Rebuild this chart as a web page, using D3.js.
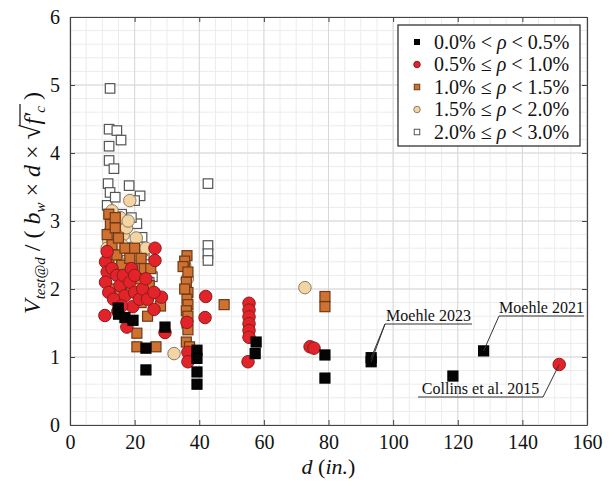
<!DOCTYPE html>
<html>
<head>
<meta charset="utf-8">
<script src="https://cdn.jsdelivr.net/npm/d3@7"></script>
<style>
  body { margin: 0; background: #fff; }
  text { font-family: "Liberation Serif", "DejaVu Serif", serif; fill: #111; }
</style>
</head>
<body>
<svg id="chart" width="616" height="489"></svg>
<script>
// Normalised shear strength vs effective depth, grouped by longitudinal reinforcement ratio.
// Each entry: [d (in.), V / (bw * d * sqrt(f'c))]

const rho0to05 = [
  [14.9, 1.72], [15.0, 1.63], [17.0, 1.58], [19.5, 1.54], [29.4, 1.44],
  [23.5, 1.13], [23.5, 0.81], [39.3, 1.10], [39.3, 0.98], [39.3, 0.78],
  [39.3, 0.60], [57.6, 1.22], [57.3, 1.05], [78.9, 1.03], [78.9, 0.69],
  [93.2, 0.99], [93.2, 0.93], [118.5, 0.72], [128.0, 1.09]
];

const rho05to10 = [
  [10.8, 1.61], [14.8, 1.67], [19.4, 1.74], [17.6, 1.44], [26.0, 1.70],
  [28.3, 1.88], [29.4, 1.36], [26.3, 2.60], [26.3, 2.42], [42.0, 1.89],
  [41.8, 1.58], [36.2, 1.51], [36.5, 1.07], [36.5, 0.93], [55.4, 1.79],
  [55.4, 1.69], [55.4, 1.59], [55.4, 1.49], [55.4, 1.39], [55.4, 1.29],
  [55.1, 0.93], [74.3, 1.15], [75.5, 1.13], [151.4, 0.89],
  [11.0, 2.40], [11.5, 2.25], [11.0, 2.10], [12.0, 1.95], [13.0, 2.30],
  [14.5, 2.20], [15.5, 2.05], [16.5, 2.20], [17.0, 1.90], [18.5, 2.10],
  [20.0, 1.95], [21.5, 1.85], [22.5, 2.00], [24.0, 1.85], [13.5, 1.85],
  [16.0, 1.75], [19.0, 2.30], [11.5, 2.55], [20.0, 2.20], [23.5, 2.15],
  [26.0, 1.95]
];

const rho10to15 = [
  [36.2, 2.49], [35.5, 2.41], [35.0, 2.33], [36.5, 2.25], [36.0, 2.10],
  [36.5, 1.95], [36.2, 1.85], [36.5, 1.77], [36.0, 1.68], [36.5, 1.60],
  [36.2, 1.50], [36.5, 1.40], [36.0, 1.22], [37.0, 1.15], [35.5, 2.00],
  [47.7, 1.77], [78.9, 1.89], [78.9, 1.74], [20.7, 1.35], [20.7, 1.15],
  [26.6, 1.15],
  [12.0, 3.10], [12.5, 2.95], [11.5, 2.80], [13.0, 2.65], [12.0, 2.45],
  [14.0, 2.90], [15.0, 2.75], [14.5, 2.50], [16.0, 2.35], [17.0, 2.60],
  [18.5, 2.45], [19.5, 2.30], [21.0, 2.15], [22.0, 2.45], [23.0, 2.30],
  [24.5, 2.05], [14.0, 3.05], [17.5, 2.10], [19.0, 1.95], [22.0, 1.80],
  [25.0, 2.30], [13.0, 2.00], [15.5, 1.90], [28.0, 1.75], [24.0, 1.60],
  [20.0, 2.60]
];

const rho15to20 = [
  [72.7, 2.02], [32.2, 1.05], [36.3, 2.15], [35.5, 2.35],
  [12.0, 2.70], [13.5, 2.55], [12.5, 2.85], [15.0, 2.40], [16.5, 2.80],
  [17.5, 2.90], [18.5, 3.30], [14.0, 2.35], [19.0, 2.60], [20.5, 2.75],
  [17.0, 2.20], [13.0, 3.15], [15.5, 3.05], [21.0, 2.50], [11.5, 2.60],
  [18.0, 3.00], [16.0, 2.65], [22.5, 2.55], [19.5, 2.05], [23.5, 2.60]
];

const rho20to30 = [
  [12.4, 4.95], [12.1, 4.35], [14.5, 4.33], [15.8, 4.19], [12.1, 4.10],
  [12.1, 3.89], [13.6, 3.77], [11.8, 3.55], [18.3, 3.52], [12.4, 3.42],
  [21.7, 3.37], [20.0, 3.30], [11.5, 3.23], [20.7, 2.96], [17.0, 2.96],
  [22.3, 2.76], [21.0, 2.62], [17.5, 2.42], [25.5, 2.18], [24.5, 2.10],
  [16.0, 3.10], [19.0, 3.05], [42.7, 3.55], [42.7, 2.64], [42.7, 2.52],
  [42.7, 2.42], [23.0, 2.50], [14.0, 3.35]
];

const legendLabels = [
  ["0.0% < ", "ρ", " < 0.5%"],
  ["0.5% ≤ ", "ρ", " < 1.0%"],
  ["1.0% ≤ ", "ρ", " < 1.5%"],
  ["1.5% ≤ ", "ρ", " < 2.0%"],
  ["2.0% ≤ ", "ρ", " < 3.0%"]
];

const xTicks = [0, 20, 40, 60, 80, 100, 120, 140, 160];
const yTicks = [0, 1, 2, 3, 4, 5, 6];

const noteLabels = ["Moehle 2023", "Moehle 2021", "Collins et al. 2015"];

// ---- layout ----
const svg = d3.select("#chart");
const x = d3.scaleLinear().domain([0, 160]).range([70, 587]);
const y = d3.scaleLinear().domain([0, 6]).range([425, 17]);

const styles = [
  { data: rho0to05, shape: "square", size: 10, fill: "#050505", stroke: "#000",    lsize: 5 },
  { data: rho05to10, shape: "circle", size: 12.5, fill: "#e3232a", stroke: "#8c1c1c", lsize: 6.5 },
  { data: rho10to15, shape: "square", size: 10, fill: "#cf7130", stroke: "#6e3a17", lsize: 5.5 },
  { data: rho15to20, shape: "circle", size: 12.5, fill: "#f4d4a2", stroke: "#8b7a66", lsize: 6.5 },
  { data: rho20to30, shape: "square", size: 9.5, fill: "#ffffff", stroke: "#555555", lsize: 5.5 }
];

// grid
const grid = svg.append("g");
const xMinor = d3.range(0, 160.01, 5);
const yMinor = d3.range(0, 6.001, 0.2);
grid.selectAll(".xm").data(xMinor).join("line")
  .attr("x1", d => x(d)).attr("x2", d => x(d))
  .attr("y1", y(0)).attr("y2", y(6))
  .attr("stroke", "#ececec").attr("stroke-width", 1);
grid.selectAll(".ym").data(yMinor).join("line")
  .attr("y1", d => y(d)).attr("y2", d => y(d))
  .attr("x1", x(0)).attr("x2", x(160))
  .attr("stroke", "#ececec").attr("stroke-width", 1);
grid.selectAll(".xM").data(xTicks).join("line")
  .attr("x1", d => x(d)).attr("x2", d => x(d))
  .attr("y1", y(0)).attr("y2", y(6))
  .attr("stroke", "#d8d8d8").attr("stroke-width", 1);
grid.selectAll(".yM").data(yTicks).join("line")
  .attr("y1", d => y(d)).attr("y2", d => y(d))
  .attr("x1", x(0)).attr("x2", x(160))
  .attr("stroke", "#d8d8d8").attr("stroke-width", 1);

// axes with inward ticks
const fmt = d3.format("d");
const axB = svg.append("g").attr("transform", `translate(0,${y(0)})`)
  .call(d3.axisBottom(x).tickValues(xTicks).tickFormat(fmt).tickSizeInner(-5).tickSizeOuter(0).tickPadding(10));
const axL = svg.append("g").attr("transform", `translate(${x(0)},0)`)
  .call(d3.axisLeft(y).tickValues(yTicks).tickFormat(fmt).tickSizeInner(-5).tickSizeOuter(0).tickPadding(10));
const axT = svg.append("g").attr("transform", `translate(0,${y(6)})`)
  .call(d3.axisTop(x).tickValues(xTicks).tickSizeInner(-5).tickSizeOuter(0).tickFormat(""));
const axR = svg.append("g").attr("transform", `translate(${x(160)},0)`)
  .call(d3.axisRight(y).tickValues(yTicks).tickSizeInner(-5).tickSizeOuter(0).tickFormat(""));
[axB, axL, axT, axR].forEach(a => {
  a.select(".domain").attr("stroke", "#444").attr("stroke-width", 1.2);
  a.selectAll(".tick line").attr("stroke", "#444");
  a.selectAll(".tick text").style("font-family", "'Liberation Serif', serif")
    .style("font-size", "20px").attr("fill", "#111");
});

// markers (highest ratio drawn first so lower ratios sit on top)
const marks = svg.append("g");
styles.slice().reverse().forEach(s => {
  const g = marks.append("g");
  if (s.shape === "circle") {
    g.selectAll("circle").data(s.data).join("circle")
      .attr("cx", d => x(d[0])).attr("cy", d => y(d[1])).attr("r", s.size / 2)
      .attr("fill", s.fill).attr("stroke", s.stroke).attr("stroke-width", 1);
  } else {
    g.selectAll("rect").data(s.data).join("rect")
      .attr("x", d => x(d[0]) - s.size / 2).attr("y", d => y(d[1]) - s.size / 2)
      .attr("width", s.size).attr("height", s.size)
      .attr("fill", s.fill).attr("stroke", s.stroke).attr("stroke-width", 1.2);
  }
});

// annotations: underlined label with a leader line to the point(s)
const notes = [
  { label: noteLabels[0], pts: [rho0to05[15], rho0to05[16]], tx: 385, ty: 324, side: "start", w: 87 },
  { label: noteLabels[1], pts: [rho0to05[18]], tx: 499, ty: 316, side: "start", w: 85 },
  { label: noteLabels[2], pts: [rho05to10[23]], tx: 543, ty: 397, side: "end", w: 125 }
];
const ann = svg.append("g");
notes.forEach(n => {
  const x0 = n.side === "start" ? n.tx : n.tx - n.w;
  const x1 = n.side === "start" ? n.tx + n.w : n.tx;
  ann.append("line").attr("x1", x0).attr("x2", x1).attr("y1", n.ty).attr("y2", n.ty)
    .attr("stroke", "#333").attr("stroke-width", 1);
  n.pts.forEach(p => {
    ann.append("line").attr("x1", n.tx).attr("y1", n.ty)
      .attr("x2", x(p[0])).attr("y2", y(p[1]))
      .attr("stroke", "#333").attr("stroke-width", 1);
  });
  ann.append("text").attr("x", (x0 + x1) / 2).attr("y", n.ty - 3)
    .attr("text-anchor", "middle").style("font-size", "16px").text(n.label);
});

// legend
const lg = svg.append("g");
lg.append("rect").attr("x", 398).attr("y", 25).attr("width", 182).attr("height", 121)
  .attr("fill", "#fff").attr("stroke", "#222").attr("stroke-width", 1.2);
styles.forEach((s, i) => {
  const cy = 42 + i * 22.5, cx = 417;
  if (s.shape === "circle") {
    lg.append("circle").attr("cx", cx).attr("cy", cy).attr("r", s.lsize / 2)
      .attr("fill", s.fill).attr("stroke", s.stroke).attr("stroke-width", 1);
  } else {
    lg.append("rect").attr("x", cx - s.lsize / 2).attr("y", cy - s.lsize / 2)
      .attr("width", s.lsize).attr("height", s.lsize)
      .attr("fill", s.fill).attr("stroke", s.stroke).attr("stroke-width", 1);
  }
  const t = lg.append("text").attr("x", 434).attr("y", cy + 6.5).style("font-size", "20px");
  const parts = legendLabels[i];
  t.append("tspan").text(parts[0]);
  t.append("tspan").style("font-style", "italic").text(parts[1]);
  t.append("tspan").text(parts[2]);
});

// x-axis title
const xt = svg.append("text").attr("x", x(80)).attr("y", 474)
  .attr("text-anchor", "middle").style("font-size", "22px");
xt.append("tspan").style("font-style", "italic").text("d");
xt.append("tspan").text(" (");
xt.append("tspan").style("font-style", "italic").text("in.");
xt.append("tspan").text(")");

// y-axis title
const yl = svg.append("g").attr("transform", "translate(33,203) rotate(-90)");
const yt = yl.append("text").attr("text-anchor", "middle").attr("y", 7).style("font-size", "24px");
yt.append("tspan").style("font-style", "italic").text("V");
yt.append("tspan").style("font-style", "italic").style("font-size", "15px").attr("dy", 5).text("test@d");
yt.append("tspan").attr("dy", -5).text(" / ( ");
yt.append("tspan").style("font-style", "italic").text("b");
yt.append("tspan").style("font-style", "italic").style("font-size", "15px").attr("dy", 5).text("w");
yt.append("tspan").attr("dy", -5).text(" × ");
yt.append("tspan").style("font-style", "italic").text("d");
yt.append("tspan").text(" × ");
yt.append("tspan").style("font-size", "27px").text("√");
yt.append("tspan").style("font-style", "italic").text("f′");
yt.append("tspan").style("font-style", "italic").style("font-size", "15px").attr("dy", 5).text("c");
yt.append("tspan").attr("dy", -5).text(" )");
// vinculum over f'c
{
  const node = yt.node();
  const full = node.textContent;
  const iStart = full.indexOf("√");
  const iEnd = full.lastIndexOf("c");
  const p0 = node.getEndPositionOfChar(iStart);
  const p1 = node.getEndPositionOfChar(iEnd);
  yl.append("line").attr("x1", p0.x - 1).attr("x2", p1.x + 2)
    .attr("y1", -13).attr("y2", -13)
    .attr("stroke", "#111").attr("stroke-width", 1.2);
}
</script>
</body>
</html>
